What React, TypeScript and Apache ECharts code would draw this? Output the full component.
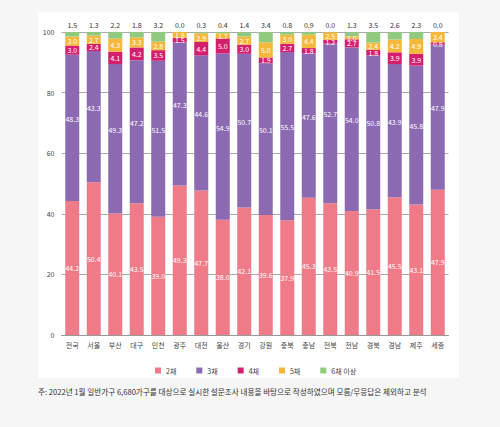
import { useEffect, useRef } from 'react';
import * as echarts from 'echarts';

const regions = ['전국', '서울', '부산', '대구', '인천', '광주', '대전', '울산', '경기', '강원', '충북', '충남', '전북', '전남', '경북', '경남', '제주', '세종'];

const two = [44.2, 50.4, 40.1, 43.5, 39.0, 49.3, 47.7, 38.0, 42.1, 39.6, 37.9, 45.3, 43.5, 40.9, 41.5, 45.5, 43.1, 47.9];
const three = [48.3, 43.3, 49.3, 47.2, 51.5, 47.3, 44.6, 54.9, 50.7, 50.1, 55.5, 47.6, 52.7, 54.0, 50.8, 43.9, 45.8, 47.9];
const four = [3.0, 2.4, 4.1, 4.2, 3.5, 1.5, 4.4, 5.0, 3.0, 1.9, 2.7, 1.8, 1.2, 2.7, 1.8, 3.9, 3.9, 0.8];
const five = [3.0, 2.7, 4.3, 3.3, 2.8, 1.9, 2.9, 1.7, 2.7, 5.0, 3.0, 4.4, 2.5, 1.0, 2.4, 4.2, 4.9, 3.4];
const sixPlus = [1.5, 1.3, 2.2, 1.8, 3.2, 0.0, 0.3, 0.4, 1.4, 3.4, 0.8, 0.9, 0.0, 1.3, 3.5, 2.6, 2.3, 0.0];

const seriesNames = ['2채', '3채', '4채', '5채', '6채 이상'];
const colors = ['#ef7b88', '#8b6ab1', '#d51f6d', '#f5b83a', '#8fca7e'];

const FONT = '"Noto Sans CJK KR", "Noto Sans", sans-serif';
const NOTE = '주: 2022년 1월 일반가구 6,680가구를 대상으로 실시한 설문조사 내용을 바탕으로 작성하였으며 모름/무응답은 제외하고 분석';

export default function App() {
  const ref = useRef<HTMLDivElement>(null);

  useEffect(() => {
    if (!ref.current) return;
    const chart = echarts.init(ref.current, undefined, { renderer: 'svg' });

    const data = [two, three, four, five, sixPlus];
    const series: any[] = data.map((vals, i) => ({
      name: seriesNames[i],
      type: 'bar',
      stack: 'total',
      barWidth: 14,
      data: vals,
      itemStyle: { color: colors[i] },
      label: {
        show: i < 4,
        position: 'inside',
        offset: i === 1 ? [0, -9] : [0, 0],
        color: '#fff',
        fontSize: 7,
        fontFamily: FONT,
        formatter: (p: any) => Number(p.value).toFixed(1),
      },
    }));

    // totals on top of each stack, labelled with the 6채 이상 share
    const totals = regions.map((_, k) => data.reduce((s, arr) => s + arr[k], 0));
    series.push({
      name: 'top-labels',
      type: 'line',
      data: totals,
      symbol: 'circle',
      symbolSize: 1,
      lineStyle: { color: 'rgba(0,0,0,0)', width: 0 },
      itemStyle: { color: 'rgba(0,0,0,0)', borderWidth: 0 },
      silent: true,
      clip: false,
      label: {
        show: true,
        position: 'top',
        distance: 3,
        color: '#333',
        fontSize: 7,
        fontFamily: FONT,
        formatter: (p: any) => sixPlus[p.dataIndex].toFixed(1),
      },
    });

    chart.setOption({
      animation: false,
      backgroundColor: '#f6f6f6',
      textStyle: { fontFamily: FONT },
      graphic: [
        {
          type: 'rect',
          z: -10,
          shape: { x: 38, y: 12, width: 421, height: 366 },
          style: { fill: '#ffffff' },
        },
        {
          type: 'text',
          left: 38,
          top: 388,
          style: { text: NOTE, fill: '#333', fontSize: 7.6, fontFamily: FONT },
        },
      ],
      legend: {
        left: 150,
        top: 362,
        itemWidth: 6,
        itemHeight: 6,
        itemGap: 20,
        icon: 'rect',
        textStyle: { fontSize: 7, color: '#444', fontFamily: FONT },
        data: seriesNames,
      },
      grid: { left: 61.5, right: 51.5, top: 32, bottom: 92 },
      xAxis: {
        type: 'category',
        data: regions,
        axisTick: { show: false },
        axisLine: { lineStyle: { color: '#999' } },
        axisLabel: { fontSize: 7, color: '#444', margin: 6, fontFamily: FONT },
      },
      yAxis: {
        type: 'value',
        min: 0,
        max: 100,
        interval: 20,
        axisLine: { show: false },
        axisTick: { show: false },
        splitLine: { lineStyle: { color: '#aaa', width: 1 } },
        axisLabel: { fontSize: 7, color: '#444', margin: 7, fontFamily: FONT },
      },
      series,
    });

    return () => chart.dispose();
  }, []);

  return (
    <div style={{ position: 'fixed', left: 0, top: 0, width: 500, height: 427 }}>
      <div ref={ref} style={{ width: 500, height: 427 }} />
    </div>
  );
}
